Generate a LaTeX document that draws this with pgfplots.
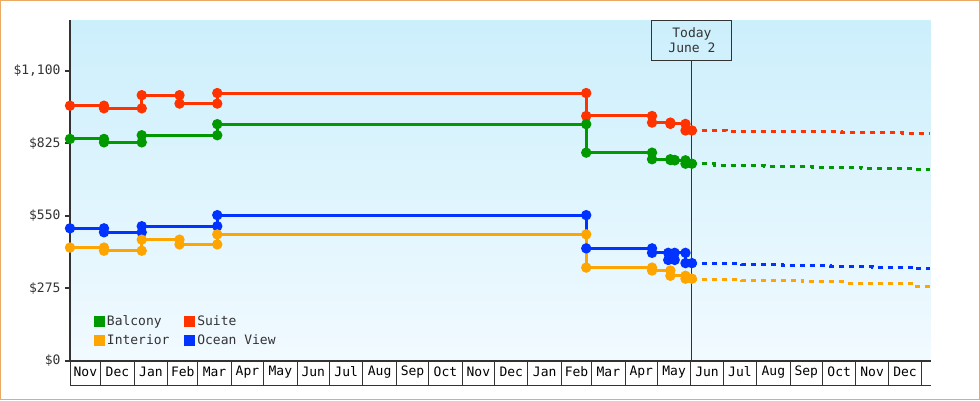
\documentclass[border=0pt]{standalone}
\usepackage{fontspec}
\setmainfont{DejaVu Sans Mono}
\usepackage{pgfplots}
\pgfplotsset{compat=1.18}

\definecolor{bordercol}{RGB}{234,170,100}
\definecolor{axisgray}{RGB}{51,51,51}
\definecolor{bgtop}{RGB}{204,239,252}
\definecolor{bgbot}{RGB}{241,250,255}
\definecolor{cgreen}{RGB}{0,153,0}
\definecolor{cred}{RGB}{255,51,0}
\definecolor{cblue}{RGB}{0,51,255}
\definecolor{corange}{RGB}{255,165,0}

% x = days counted from 1 Nov of the first year
\begin{document}
\fontsize{13pt}{15pt}\selectfont
\begin{tikzpicture}[x=1pt,y=1pt]
\useasboundingbox (0,0) rectangle (980,400);
\draw[bordercol, line width=1pt] (0.5,0.5) rectangle (979.5,399.5);
\begin{axis}[
    at={(70pt,39.3pt)}, anchor=south west,
    scale only axis, width=860.7pt, height=340.7pt,
    xmin=1.5, xmax=799.3, ymin=0, ymax=1292,
    clip=false,
    axis x line=bottom, axis y line=left,
    axis line style={-, draw=axisgray, line width=2pt},
    axis background/.style={shade, top color=bgtop, bottom color=bgbot},
    tick align=outside,
    major tick length=5pt,
    ytick={0,275,550,825,1100},
    yticklabels={\$0,\$275,\$550,\$825,{\$1,100}},
    ytick style={draw=axisgray, line width=2pt},
    yticklabel style={text=axisgray, font=\fontsize{13pt}{15pt}\selectfont},
    xtick={15.75,45.5,76.5,106,135.5,166,196.5,227,257.5,288.5,319,349.5,380,410.5,441.5,471,500.5,531,561.5,592,622.5,653.5,684,714.5,745,775.5},
    xticklabels={Nov,Dec,Jan,Feb,Mar,Apr,May,Jun,Jul,Aug,Sep,Oct,Nov,Dec,Jan,Feb,Mar,Apr,May,Jun,Jul,Aug,Sep,Oct,Nov,Dec},
    xtick style={draw=none},
    xticklabel style={text=black, anchor=center, yshift=-6pt, font=\fontsize{13pt}{15pt}\selectfont},
    extra x ticks={1.5,30,61,92,120,151,181,212,242,273,304,334,365,395,426,457,485,516,546,577,607,638,669,699,730,760,791},
    extra x tick labels={},
    extra x tick style={major tick length=24.3pt, xtick style={draw=axisgray, line width=1pt}},
    legend columns=2,
    legend cell align=left,
    legend style={at={(0.0271,0.1380)}, anchor=north west, draw=none, fill=none,
        inner sep=0pt, text=axisgray, font=\fontsize{13pt}{15pt}\selectfont,
        nodes={inner sep=1.5pt},
        /tikz/every odd column/.style={column sep=1.5pt},
        /tikz/every even column/.style={column sep=12.9pt},
        row sep=4.5pt},
]
% box row under the axis
\draw[axisgray, line width=1pt] ([yshift=-24.3pt]rel axis cs:0,0) -- ([yshift=-24.3pt]rel axis cs:1,0);
% today marker
\node[draw=axisgray, line width=1pt, minimum width=80pt, minimum height=40pt,
      anchor=north, align=center, inner sep=0pt, text=axisgray,
      font=\fontsize{13pt}{15pt}\selectfont] (today) at (axis cs:578,1292) {Today\\June 2};
\draw[axisgray, line width=1pt] (axis cs:578,0) -- (today.south);

\addlegendimage{legend image code/.code={\fill[cgreen] (0pt,-5pt) rectangle (10pt,5pt);}}
\addlegendentry{Balcony}
\addlegendimage{legend image code/.code={\fill[cred] (0pt,-5pt) rectangle (10pt,5pt);}}
\addlegendentry{Suite}
\addlegendimage{legend image code/.code={\fill[corange] (0pt,-5pt) rectangle (10pt,5pt);}}
\addlegendentry{Interior}
\addlegendimage{legend image code/.code={\fill[cblue] (0pt,-5pt) rectangle (10pt,5pt);}}
\addlegendentry{Ocean View}

% Suite
\addplot[cred, line width=3pt, mark=*, mark size=3.6pt, forget plot] coordinates {
(1.5,967) (33,967) (33,957) (68,957) (68,1007) (103,1007) (103,975) (138,975) (138,1015)
(480,1015) (480,928) (541,928) (541,903) (558,903) (558,898) (572,898) (572,873) (578,873)};
\addplot[cred, line width=3pt, dash pattern=on 5pt off 5pt, forget plot] coordinates {
(578,873) (610,873) (610,871) (662,871) (662,868) (717,868) (717,865) (773,865) (773,860) (799,860)};

% Balcony
\addplot[cgreen, line width=3pt, mark=*, mark size=3.6pt, forget plot] coordinates {
(1.5,841) (33,841) (33,828) (68,828) (68,855) (138,855) (138,897)
(480,897) (480,789) (541,789) (541,764) (558,764) (558,761) (562,761) (562,760) (572,760) (572,747) (578,747)};
\addplot[cgreen, line width=3pt, dash pattern=on 5pt off 5pt, forget plot] coordinates {
(578,747) (599,747) (599,742) (645,742) (645,738) (690,738) (690,734) (735,734) (735,730) (784,730) (784,726) (799,726)};

% Ocean View
\addplot[cblue, line width=3pt, mark=*, mark size=3.6pt, forget plot] coordinates {
(1.5,502) (33,502) (33,487) (68,487) (68,510) (138,510) (138,552)
(480,552) (480,426) (541,426) (541,409) (556,409) (556,382) (562,382) (562,409) (572,409) (572,370) (578,370)};
\addplot[cblue, line width=3pt, dash pattern=on 5pt off 5pt, forget plot] coordinates {
(578,369) (624,369) (624,365) (662,365) (662,361) (706,361) (706,357) (745,357) (745,353) (783,353) (783,348) (799,348)};

% Interior
\addplot[corange, line width=3pt, mark=*, mark size=3.6pt, forget plot] coordinates {
(1.5,429) (33,429) (33,417) (68,417) (68,459) (103,459) (103,441) (138,441) (138,479)
(480,479) (480,353) (541,353) (541,342) (558,342) (558,322) (572,322) (572,311) (578,311)};
\addplot[corange, line width=3pt, dash pattern=on 5pt off 5pt, forget plot] coordinates {
(578,309) (624,309) (624,304) (680,304) (680,299) (720,299) (720,294) (783,294) (783,283) (799,283)};
\end{axis}
\end{tikzpicture}
\end{document}
